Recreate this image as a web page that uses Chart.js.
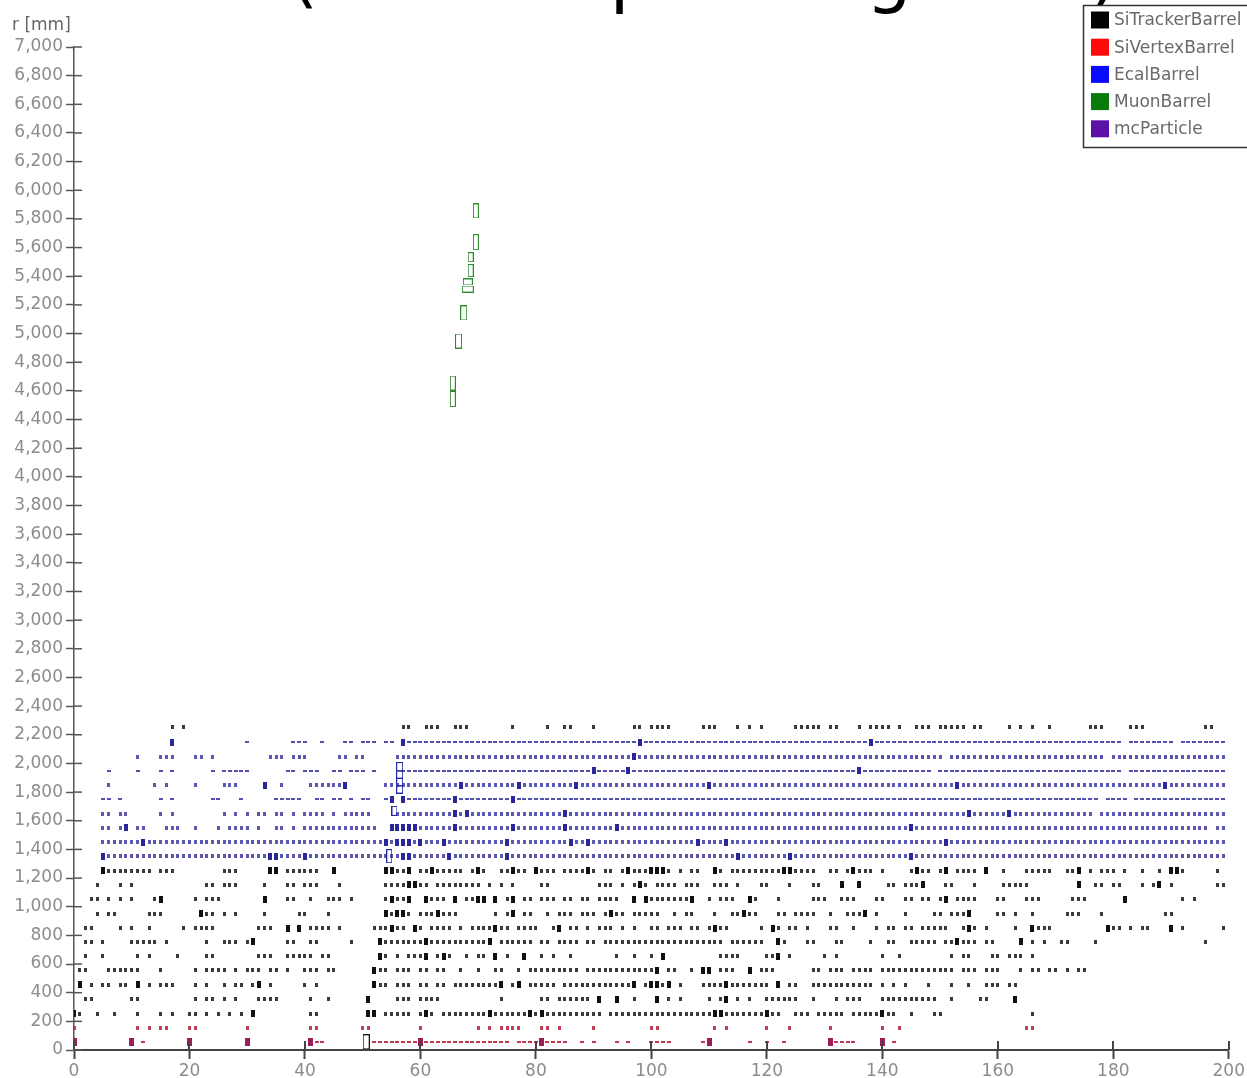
<!DOCTYPE html>
<html>
<head>
<meta charset="utf-8">
<title>hit display r vs x</title>
<script src="https://cdn.jsdelivr.net/npm/chart.js@4.4.0/dist/chart.umd.min.js"></script>
<style>
  html, body { margin: 0; padding: 0; background: #fff; }
  #wrap { width: 1247px; height: 1078px; position: relative; }
</style>
</head>
<body>
<div id="wrap"><canvas id="hits"></canvas></div>
<script>
// radius of each hit layer [mm], top to bottom
const layerR = [2251, 2148, 2048, 1948, 1846, 1750, 1650, 1550, 1450, 1353,
                1252, 1152, 1052, 951, 851, 755, 656, 556, 455, 355, 254, 152, 58];
// detector of each layer
const layerDet = ['tracker', 'ecal', 'ecal', 'ecal', 'ecal', 'ecal', 'ecal', 'ecal', 'ecal', 'ecal',
                  'tracker', 'tracker', 'tracker', 'tracker', 'tracker', 'tracker', 'tracker',
                  'tracker', 'tracker', 'tracker', 'tracker', 'vertex', 'vertex'];
// hit map of each layer, one char per x unit (groups of 10): '.' none, 'x' hit, 'B' large hit
const layerHits = [
  ".......... .......x.x .......... .......... .......... .......xx. .xxx..xxx. ......x... ..x..xx... x......xx. xxxx.....x xx...x.x.x .....xxxxx .xx...x.xx xx.x..xxx. xxxxx.xx.. ..x.x.x..x ......xxx. ...xxx.... ......xx..",
  ".......... .......B.. .......... x.......xx x..x...xx. xxx.xx.Bxx xxxxxxxxxx xxxxxxxxxx xxxxxxxxxx xxxxxxxxBx xxxxxxxxxx xxxxxxxxxx xxxxxxxxxx xxxxxxxxBx xxxxxxxxxx xxxxxxxxxx xxxxxxxxxx xxxxxxxxxx xx.xxxxxxx x.xxxxxxxx",
  ".......... .x...xxx.. .xx.x..... ....xxx.xx x.....xx.x x.....xxxx xxxxxxxxxx xxxxxxxxxx xxxxxxxxxx xxxxxxxBxx xxxxxxxxxx xxxxxxxxxx xxxxxxxxxx xxxxxxxxxx xxxxxxxxxx x.xxxxxxxx xxxxxxxxxx xxxxxxxxx. xxxxxxxxxx xxxxxxxxxx",
  "......x... .x...x.x.. ....x.xxxx x......xx. xxx..xx.xx x.x....xxx xxxxxxxxxx xxxxxxxxxx xxxxxxxxxx BxxxxxBxxx xxxxxxxxxx xxxxxxxxxx xxxxxxxxxx xxxxxxBxxx xxxxxxxxx. xxxxxxxxxx xxxxxxxxxx xxxxxxxxxx xx.xxxxxxx xxxxxxxxxx",
  "......x... ....x.x... .x....xxx. ...B..x... .xxxxxxB.. ....xxxxxx xxxxxxxBxx xxxxxxxBxx xxxxxxxBxx xxxxxxxxxx xxxxxxxxxx Bxxxxxxxxx xxxxxxxxxx xxxxxxxxxx xxxxxxxxxx xxxBxxxxxx xxxxxxxxxx xxxxxxxxxx xxxxxxxxxB xxxxxxxxxx",
  ".....xx.x. .....x.x.. ....xx...x .....xxxxx ..xx.xx.x. xx..xB.Bxx xxxxxxBxxx xxxxxxBxxx xxxxxxxxxx xxxxxxxxxx xxxxxxxxxx xxxxxxxxxx xxxxxxxxxx xxxxxxxxxx xxxxxxxxxx xxxxxxxxxx xxxxxxxxxx xxxxxxxx.x xxx.xxxxxx xxxxxxxxxx",
  ".....xx.xx .....x.x.. ......x.x. x.xx.xx.x. xxxx.x.xxx xx....xxxx xxxxxxBxBx xxxxxxxxxx xxxxxBxxxx xxxxxxxxxx xxxxxxxxxx xxxxxxxxxx xxxxxxxxxx xxxxxxxxxx xxxxxxxxxx xxxxxBxxxx xxBxxxxxxx xxxxxxx.xx xxxxxxxxxx xxxxxxxxxx",
  ".....xx.xB .xx...xxx. .x...x.xxx x.x..xx.x. xxxxxxxxxx xxx..BBBBB xxxxxxBxxx xxxxxxBxxx xxxxxBxxxx xxxxBxxxxx xxxxxxxxxx xxxxxxxxxx xxxxxxxxxx xxxxxxxxxx xxxxxBxxxx xxxxxxxxxx xxxxxxxxxx xxxxxxxxxx xxxxxxxxxx xxxxxxx.xx",
  ".....xxxxx xxBxxxxxxx xxxxxxxxxx xxxxxxxxxx xxxxxxxxxx xxxxBxBBBx BxxxBxxxxx xxxxxBxxxx xxxxxxBxxB xxxxxxxxxx xxxxxxxxBx xxxBxxxxxx xxxxxxxxxx xxxxxxxxxx xxxxxxxxxx xBxxxxxxxx xxxxxxxxxx xxxxxxxxxx xxxxxxxxxx xxxxxxxxxx",
  ".....Bxxxx xxxxxxxxxx xxxxxxxxxx xxxxBBxxxx Bxxxxxxxxx xxxxxxxBBx xxxxxBxxxx xxxxxBxxxx xxxxxxxxxx xxxxxxxxxx xxxxxxxxxx xxxxxBxxxx xxxxBxxxxx xxxxxxxxxx xxxxxBxxxx xxxxxxxxxx xxxxxxxxxx xxxxxxxxxx xxxxxxxxxx xxxxxxxxxx",
  ".....Bxxxx xxxx.xxx.. ......xxx. ....BB.xxx xxx..B.... ....BBxxB. xxBxxxxx.x Bx..xxBxx. Bxxx.xxxxB x.xx.xBxxx BBBx.x.xx. .Bx.xxxxxx xxxBBxxxx. .xx.xBxxx. x....xBxx. xB.xxxx.B. .x...xxxxx ..xxB.x.xx x.x..x..x. BBx.....x.",
  "....x...x. x......... ...xx.xxx. ...x...xx. xxx...x... ....xxxxBB xx.xxxxxxx x.x.x.x... .xx....... .xxx.x.xBx .xxxx.xxx. .xxx.x...x x...x...xx ...B..B... .xx.xxxB.. .xx...x... .xxxxx.... ....B..xx. xx...x.xB. x.......xx",
  "...xx.x.x. x...xB.... .x.xxx.... ...B...xx. .x..xxx.x. ....xBxxB. .Bxxx.B.xx BB.B.xB.xx .xxx.xx.xx .xxxx..B.B xxxxxxxB.. x.xxx..Bx. ..x.....xx x..xxx...x x...xx.xx. xB.xxxx... xx...xxx.. ...xxx.... ..B....... ..x.x.....",
  "....x.xx.. ...xxx.... ..Bxx.x.x. ...x.....x x...x..... ....BxBBx. xxxBxxx... ...x.xB.xx ..x.xxx.xx x.xBxx.xxx xx..x.xx.. .x..xxBxx. ..xx.xxxx. .x..xxxB.x ....x....x x.xxxB.... xx.x..x... ..xxx...x. .........x x.........",
  "..xx....x. x..x.....x .xxxx..... ..xxx..B.B .xxxx.x... ..xxxBxx.B x.xxxx.x.x xxxBxx.xxx x..xB.xx.x .xxx.x.x.. xx.xxx.xx. xBxx.....x .Bx.xx.x.. .xx..x...x .xx.xx.xxx xx..xBx.x. ...x..Bxxx .........B xx.x.xx... B.x......x",
  "..xx.x.... xxxxx.x... ...x..xxx. xB.....xx. .xx.....x. ...Bxxxxxx xBxxxxxxxx xxB.xxxxxx .xx.xxxx.x x.xxxxxxxx xxxxxxxxxx xxx.xxxxxx ..Bx...xx. ..xx....x. .xx..xxxxx .xxBxxx.xx ....B.x.x. .xx....x.. .......... ......x...",
  "..x..x.... .x.x....x. ...xx..... ..xxx..xxx xx.xx..... ...Bx.x.xx xB.xBx..x. xx.B.x..B. .x.x..x... ....x..x.. x.B....... ..xxxx.... xxB.x..... x.x....... x..x...... ..x.xx...x x.xxx.x... .......... .......... ..........",
  ".xx...xxxx xx...x.... .x.xxxx.x. xxx.xx.x.. xxx.xx.... ..Bxx.xxx. xx.xx..x.. x..xx..x.x xxxxxxxx.x xxxxxxxxxx xB.xx..x.B B.xxx..B.x xx......xx .xxx.xxxx. xxxxxxxxxx xxx.xxx.xx x...x.xx.x x.x.xx.... .......... ..........",
  ".B.x.xx.xx .B.x.xxx.. .x.x..x.xx .xB.x..... x.x....... ..Bxx.xxx. xx.xx.xxxx xxxxB.xB.x xxxx.xxxxx xxxxxxxB.x BBxB.x...x xxxBxxxxxx x.B.xx..xx xxxxxxxxx. x.x.x...x. ..x..x..xx x.xx...... .......... .......... ..........",
  "..xx...... xx........ .x.xx.x.x. ..xxxx.... .x..x..... .B....xxx. xxxx...... ....x..... .xx.xxxxxx .B..B..x.. .B.x.x.... x.xB.x.x.. xxxxxx..x. ..x.xxx... xxxxxxxxxx ..x....xx. ...B...... .......... .......... ..........",
  "Bx..x..x.. .x...x.x.. xx.x.x.x.x .B........ .xx....... .BB.xxxxx. xBx.xxxxxx xxBxxxxxxB xBxxxxxxxx xx.xxxxxxx xxxxxxxxxx xBBxxxxxxx Bxx..xxx.x xxxx.xxxxx Bxx..x...x x......... ......x... .......... .......... ..........",
  "x......... .x.x.xx... xx........ x......... .xx....... xx........ x......... x.x.xxxx.. .xx.x..... x......... xx........ .x.x...... x...x..... .x........ x..x...... .......... .....xx... .......... .......... ..........",
  "B......... B.x....... B......... B......... .Bxx...... ..xxxxxxxx Bxxxxxxxxx xxxxxx.xxx xBxxxx..x. x...x.x... xxxx.....x B......x.. x..x...... .Bxxxx.... B.x....... .......... .......... .......... .......... .........."
];
// look of the small hits in each layer (style): 'r' short upright mark, '-' flat dash
const layerMark = ['r', '-', 'r', '-', 'r', '-', 'r', 'r', 'r', 'r',
                   'r', 'r', 'r', 'r', 'r', 'r', 'r', 'r', 'r', 'r', 'r', 'r', '-'];

// muon barrel hits (drawn as open boxes)
const muonX = [69.6, 69.6, 68.7, 68.7, 68.2, 68.2, 67.5, 66.6, 65.6, 65.6];
const muonR = [5856, 5638, 5533, 5440, 5360, 5311, 5144, 4948, 4655, 4543];
// large calorimeter clusters (open boxes)
const ecalBoxX = [56.4, 56.4, 56.4, 56.4, 55.5, 54.6];
const ecalBoxR = [1978, 1922, 1870, 1818, 1669, 1353];
// large tracker hit (open box)
const trkBoxX = [50.6];
const trkBoxR = [57];

// box sizes in px (style only)
const muonBoxPx = [[6, 15], [6, 16], [6, 10], [6, 13], [10, 7], [12, 7], [7, 15], [7, 15], [6, 15], [6, 16]];
const ecalBoxPx = [[7, 9], [7, 8], [7, 8], [7, 8], [6, 10], [6, 14]];

function box(w, h, fill, stroke) {
  const c = document.createElement('canvas');
  c.width = w;
  c.height = h;
  const g = c.getContext('2d');
  if (fill) {
    g.fillStyle = fill;
    g.fillRect(0, 0, w, h);
  }
  if (stroke) {
    g.strokeStyle = stroke;
    g.lineWidth = 1;
    g.strokeRect(0.5, 0.5, w - 1, h - 1);
  }
  return c;
}

const marks = {
  tracker: { r: box(3, 4, '#3a3a3a'), '-': box(4, 2, '#3a3a3a'), big: box(4, 7, '#111') },
  ecal: { r: box(3, 4, '#5c58b2'), '-': box(4, 2, '#5450ae'), big: box(4, 7, '#2a2898') },
  vertex: { r: box(3, 4, '#c0405a'), '-': box(4, 2, '#c03a55'), big: box(5, 8, '#9a1c58') }
};

function layerPoints(det) {
  const pts = [];
  layerHits.forEach((row, i) => {
    if (layerDet[i] !== det) return;
    row.split(' ').forEach((grp, g) => {
      for (let j = 0; j < grp.length; j++) {
        const c = grp[j];
        if (c === '.') continue;
        pts.push({ x: g * 10 + j, y: layerR[i], big: c === 'B', mark: layerMark[i] });
      }
    });
  });
  return pts;
}

function hitSet(label, det, swatch) {
  return {
    label: label,
    swatch: swatch,
    data: layerPoints(det),
    pointStyle: c => (c.raw ? (c.raw.big ? marks[det].big : marks[det][c.raw.mark]) : marks[det].r),
    radius: 3
  };
}

const muonImgs = muonBoxPx.map(s => box(s[0], s[1], null, '#2f8a2f'));
const ecalImgs = ecalBoxPx.map(s => box(s[0], s[1], null, '#2626a8'));
const trkImg = box(7, 15, null, '#1a1a1a');

const datasets = [
  { label: 'muon boxes', data: muonX.map((x, i) => ({ x: x, y: muonR[i] })),
    pointStyle: c => muonImgs[c.dataIndex], radius: 4 },
  { label: 'ecal boxes', data: ecalBoxX.map((x, i) => ({ x: x, y: ecalBoxR[i] })),
    pointStyle: c => ecalImgs[c.dataIndex], radius: 4 },
  { label: 'tracker box', data: trkBoxX.map((x, i) => ({ x: x, y: trkBoxR[i] })),
    pointStyle: trkImg, radius: 4 },
  hitSet('SiTrackerBarrel', 'tracker', '#000000'),
  hitSet('SiVertexBarrel', 'vertex', '#ff0a0a'),
  hitSet('EcalBarrel', 'ecal', '#0a0aff'),
  { label: 'MuonBarrel', swatch: '#0a7a0a', data: [] },
  { label: 'mcParticle', swatch: '#5c10a8', data: [] }
];

const legendOrder = ['SiTrackerBarrel', 'SiVertexBarrel', 'EcalBarrel', 'MuonBarrel', 'mcParticle'];

// tick marks that also reach into the plot
const innerTicks = {
  id: 'innerTicks',
  afterDatasetsDraw(chart) {
    const { ctx, chartArea: a, scales } = chart;
    ctx.save();
    ctx.strokeStyle = '#444';
    ctx.lineWidth = 2;
    scales.x.ticks.forEach(t => {
      const px = Math.round(scales.x.getPixelForValue(t.value));
      ctx.beginPath();
      ctx.moveTo(px, a.bottom);
      ctx.lineTo(px, a.bottom - 9);
      ctx.stroke();
    });
    ctx.strokeStyle = '#555';
    ctx.lineWidth = 1.5;
    scales.y.ticks.forEach(t => {
      const py = scales.y.getPixelForValue(t.value);
      ctx.beginPath();
      ctx.moveTo(a.left, py);
      ctx.lineTo(a.left + 8, py);
      ctx.stroke();
    });
    ctx.restore();
  }
};

// cut-off title, axis unit and the boxed legend
const extras = {
  id: 'extras',
  afterDraw(chart) {
    const ctx = chart.ctx;
    ctx.save();
    ctx.fillStyle = '#000';
    ctx.font = '72px "DejaVu Sans"';
    ctx.textAlign = 'left';
    ctx.textBaseline = 'alphabetic';
    ctx.fillText('(z hit map of rings 1-4)', 290, -1);

    ctx.fillStyle = '#666';
    ctx.font = '17px "DejaVu Sans"';
    ctx.fillText('r [mm]', 12, 30);

    ctx.fillStyle = '#fff';
    ctx.fillRect(1083, 5, 170, 143);
    ctx.strokeStyle = '#333';
    ctx.lineWidth = 1.5;
    ctx.strokeRect(1083.5, 5.5, 170, 142);
    ctx.font = '17px "DejaVu Sans"';
    ctx.textBaseline = 'middle';
    legendOrder.forEach((name, i) => {
      const ds = chart.data.datasets.find(d => d.label === name);
      const cy = 20 + i * 27.2;
      ctx.fillStyle = ds.swatch;
      ctx.fillRect(1091, cy - 8.5, 18, 17);
      ctx.fillStyle = '#6a6a6a';
      ctx.fillText(name, 1114, cy + 1);
    });
    ctx.restore();
  }
};

const tickFont = { family: '"DejaVu Sans"', size: 17 };

new Chart(document.getElementById('hits'), {
  type: 'scatter',
  data: { datasets: datasets },
  options: {
    responsive: true,
    maintainAspectRatio: false,
    animation: false,
    layout: { padding: { top: 47, right: 18, left: 0, bottom: 0 } },
    plugins: {
      legend: { display: false },
      tooltip: { enabled: false },
      title: { display: false }
    },
    scales: {
      x: {
        type: 'linear',
        min: 0,
        max: 200,
        ticks: { stepSize: 20, color: '#8c8c8c', font: tickFont, padding: 2, maxRotation: 0, autoSkip: false },
        grid: { drawOnChartArea: false, tickLength: 9, tickColor: '#444', tickWidth: 2 },
        border: { color: '#444', width: 2 },
        afterFit: s => { s.height = 28; }
      },
      y: {
        min: 0,
        max: 7000,
        ticks: { stepSize: 200, color: '#8c8c8c', font: tickFont, padding: 3, autoSkip: false },
        grid: { drawOnChartArea: false, tickLength: 8, tickColor: '#555', tickWidth: 1.5 },
        border: { color: '#555', width: 1.5 },
        afterFit: s => { s.width = 74; }
      }
    }
  },
  plugins: [innerTicks, extras]
});
</script>
</body>
</html>
